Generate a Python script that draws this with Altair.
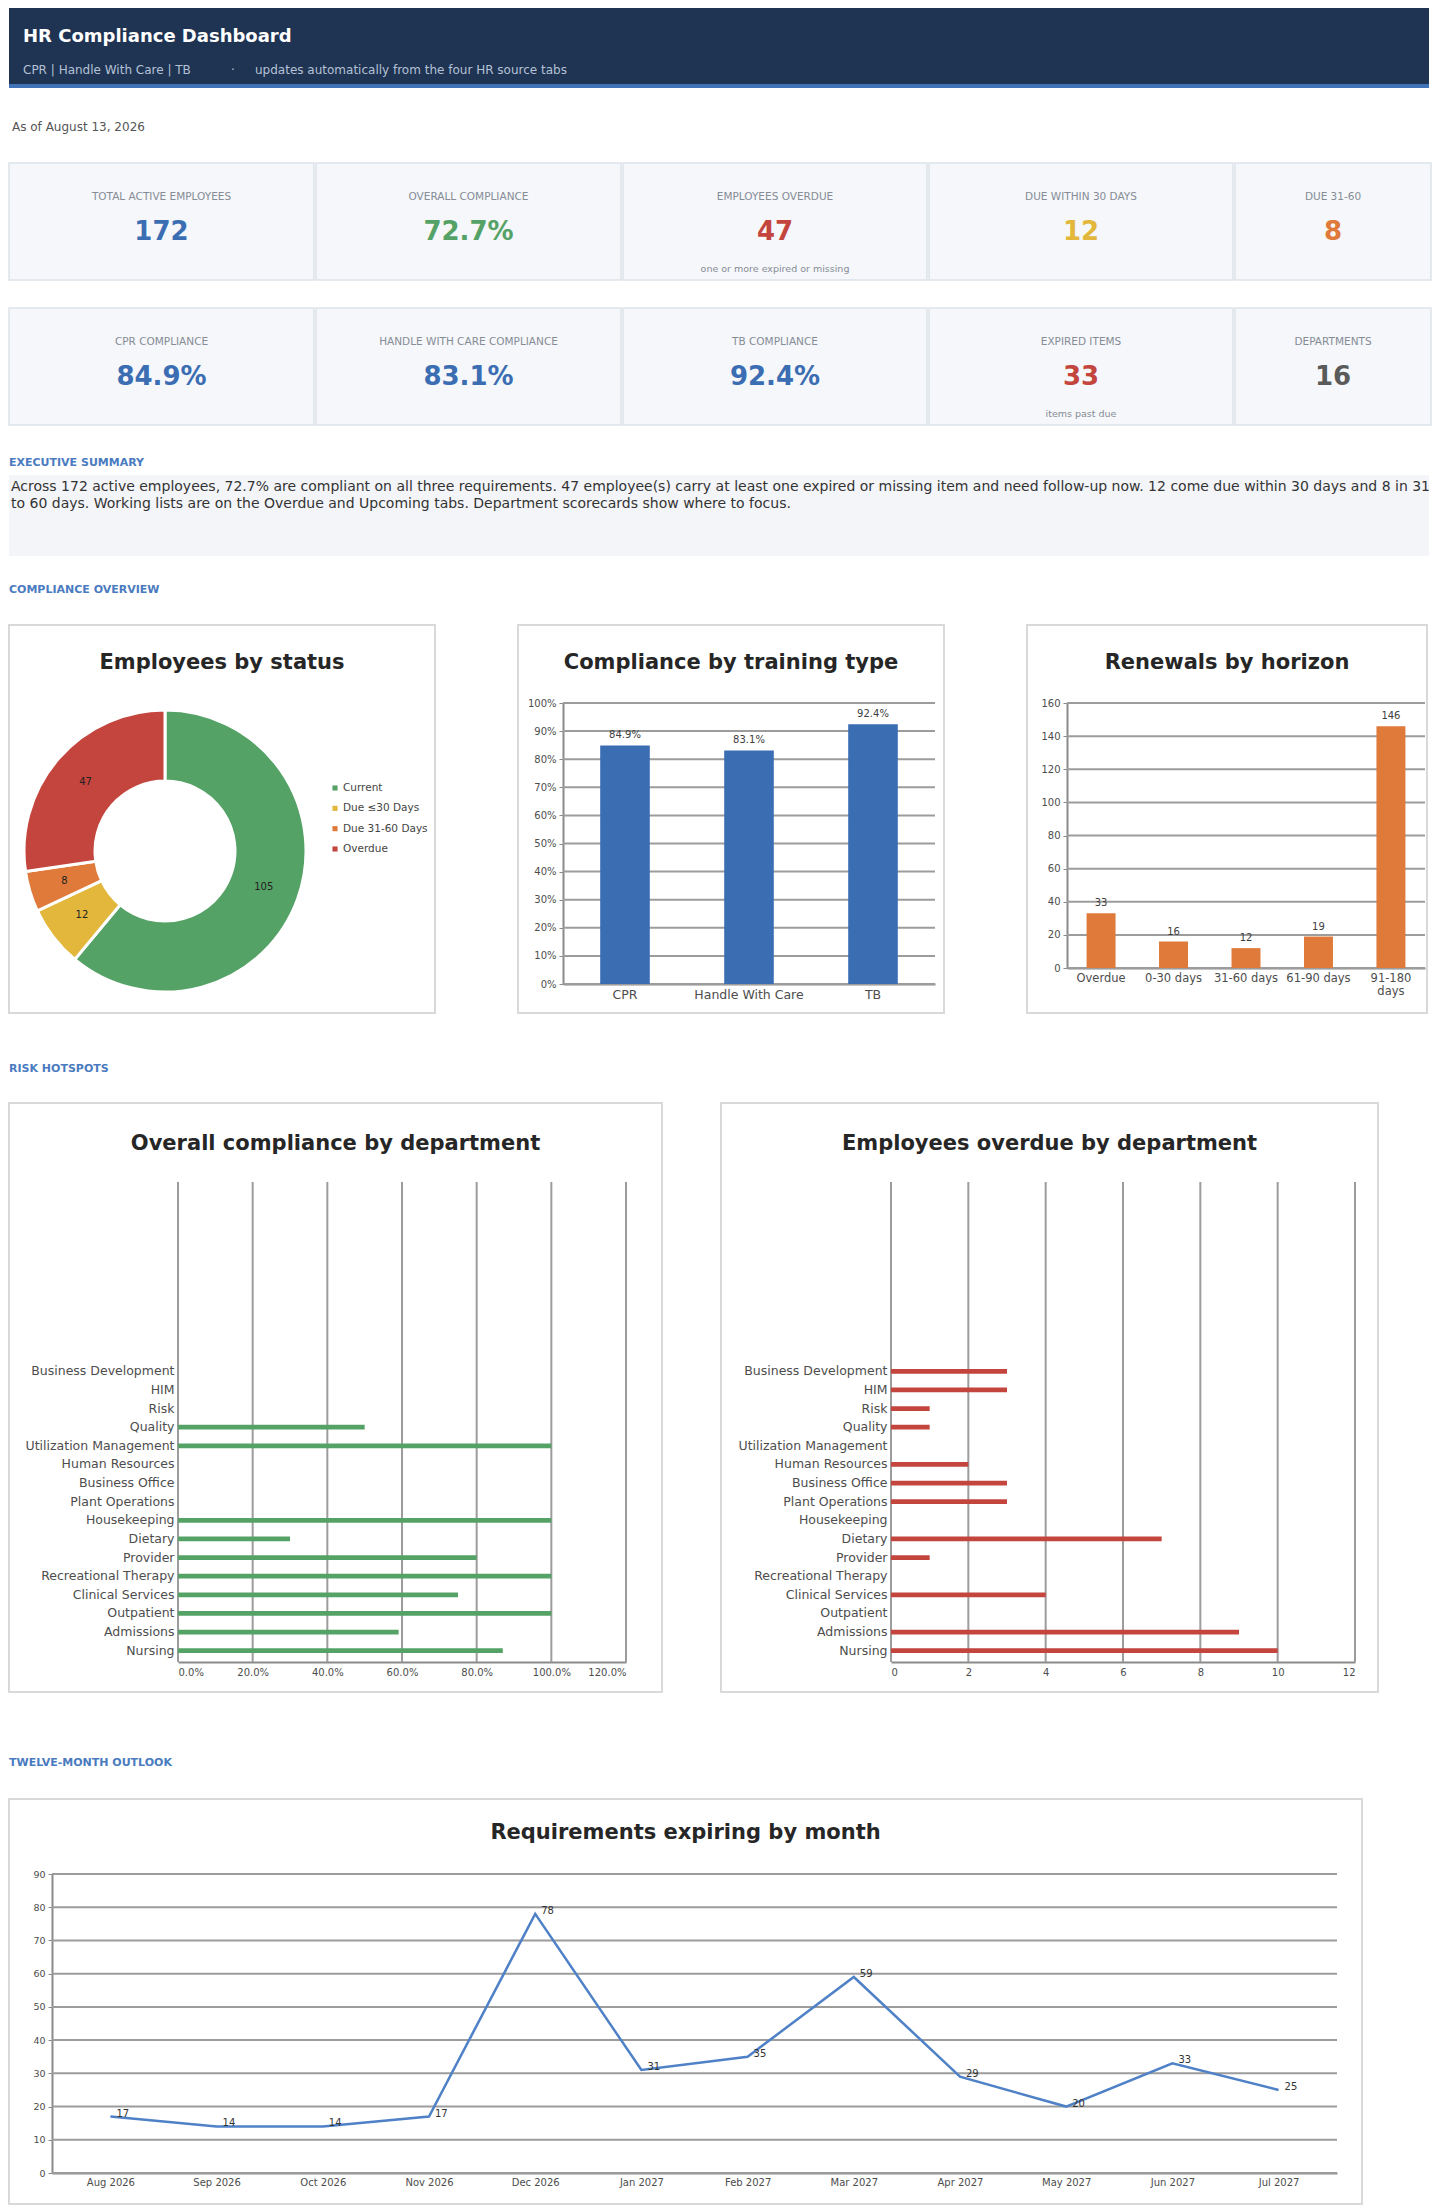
import altair as alt
import pandas as pd

FONT = "DejaVu Sans"

# ---------------- text content ----------------
header_title = "HR Compliance Dashboard"
header_programs = "CPR  |  Handle With Care  |  TB"
header_dot = "\u00b7"
header_note = "updates automatically from the four HR source tabs"
as_of_text = "As of August 13, 2026"

kpi_row1_labels = ["TOTAL ACTIVE EMPLOYEES", "OVERALL COMPLIANCE", "EMPLOYEES OVERDUE", "DUE WITHIN 30 DAYS", "DUE 31-60"]
kpi_row1_values = ["172", "72.7%", "47", "12", "8"]
kpi_row1_notes = ["", "", "one or more expired or missing", "", ""]
kpi_row2_labels = ["CPR COMPLIANCE", "HANDLE WITH CARE COMPLIANCE", "TB COMPLIANCE", "EXPIRED ITEMS", "DEPARTMENTS"]
kpi_row2_values = ["84.9%", "83.1%", "92.4%", "33", "16"]
kpi_row2_notes = ["", "", "", "items past due", ""]

section_labels = ["EXECUTIVE SUMMARY", "COMPLIANCE OVERVIEW", "RISK HOTSPOTS", "TWELVE-MONTH OUTLOOK"]
summary_lines = [
    "Across 172 active employees, 72.7% are compliant on all three requirements. 47 employee(s) carry at least one expired or missing item and need follow-up now. 12 come due within 30 days and 8 in 31",
    "to 60 days. Working lists are on the Overdue and Upcoming tabs. Department scorecards show where to focus.",
]

chart_titles = ["Employees by status", "Compliance by training type", "Renewals by horizon",
                "Overall compliance by department", "Employees overdue by department",
                "Requirements expiring by month"]

# ---------------- chart data ----------------
status_names = ["Current", "Due \u226430 Days", "Due 31-60 Days", "Overdue"]
status_counts = [105, 12, 8, 47]

training_types = ["CPR", "Handle With Care", "TB"]
training_rates = [0.849, 0.831, 0.924]
pct_ticks = [0.0, 0.1, 0.2, 0.3, 0.4, 0.5, 0.6, 0.7, 0.8, 0.9, 1.0]

horizon_names = ["Overdue", "0-30 days", "31-60 days", "61-90 days", "91-180 days"]
horizon_counts = [33, 16, 12, 19, 146]
horizon_ticks = [0, 20, 40, 60, 80, 100, 120, 140, 160]

departments = ["Business Development", "HIM", "Risk", "Quality", "Utilization Management",
               "Human Resources", "Business Office", "Plant Operations", "Housekeeping",
               "Dietary", "Provider", "Recreational Therapy", "Clinical Services",
               "Outpatient", "Admissions", "Nursing"]
dept_compliance = [0.0, 0.0, 0.0, 0.5, 1.0, 0.0, 0.0, 0.0, 1.0, 0.3, 0.8, 1.0, 0.75, 1.0, 0.591, 0.870]
dept_overdue = [3, 3, 1, 1, 0, 2, 3, 3, 0, 7, 1, 0, 4, 0, 9, 10]
compliance_ticks = [0.0, 0.2, 0.4, 0.6, 0.8, 1.0, 1.2]
overdue_ticks = [0, 2, 4, 6, 8, 10, 12]

months = ["Aug 2026", "Sep 2026", "Oct 2026", "Nov 2026", "Dec 2026", "Jan 2027",
          "Feb 2027", "Mar 2027", "Apr 2027", "May 2027", "Jun 2027", "Jul 2027"]
month_counts = [17, 14, 14, 17, 78, 31, 35, 59, 29, 20, 33, 25]
month_ticks = [0, 10, 20, 30, 40, 50, 60, 70, 80, 90]

# ---------------- styles ----------------
NAVY = "#1f3352"
ACCENT = "#3f72b6"
BLUE = "#3b6db3"
GREEN = "#55a266"
RED = "#c4453d"
GOLD = "#e2b73c"
ORANGE = "#df7a3a"
GRID = "#9c9c9c"
GRID_W = 2
AX = "#8a8a8a"
LBL = "#4d4d4d"
SECTION = "#4a7bc0"
status_colors = [GREEN, GOLD, ORANGE, RED]
kpi_row1_colors = [BLUE, GREEN, RED, GOLD, ORANGE]
kpi_row2_colors = [BLUE, BLUE, BLUE, RED, "#5a5a5a"]
card_widths = [305, 305, 304, 304, 196]
PAGE_W = 1420
PANEL_VIEW = alt.ViewBackground(fill="white", stroke="#d9d9d9", strokeWidth=2)
TITLE_SIZE = 21

one = pd.DataFrame({"k": [0]})


def txt(text, x, y, size=11, color="#333333", weight="normal", align="left"):
    return alt.Chart(pd.DataFrame({"t": [text]})).mark_text(
        align=align, baseline="middle", fontSize=size, color=color,
        fontWeight=weight, font=FONT
    ).encode(x=alt.value(x), y=alt.value(y), text="t:N")


def box(x0, y0, x1, y1, fill="white"):
    return alt.Chart(one).mark_rect(fill=fill).encode(
        x=alt.value(x0), x2=alt.value(x1), y=alt.value(y0), y2=alt.value(y1))


def ptitle(text, fw, y):
    return txt(text, fw / 2, y, size=TITLE_SIZE, color="#262626", weight="bold", align="center")


def axis_left(values, fmt, L, size=10):
    return alt.Axis(title=None, values=values, format=fmt, grid=False, offset=-L,
                    domainColor=AX, domainWidth=2, ticks=True, tickColor=AX, tickSize=4,
                    labelFontSize=size, labelColor=LBL, labelFont=FONT, labelPadding=3)


def axis_bottom_cat(B, size=11, expr=None):
    kw = {}
    if expr:
        kw["labelExpr"] = expr
    return alt.Axis(title=None, labelAngle=0, ticks=False, grid=False, offset=-B,
                    domainColor=AX, domainWidth=2, labelFontSize=size, labelColor=LBL,
                    labelFont=FONT, labelPadding=4, **kw)


def axis_bottom_q(values, fmt, B, size=10):
    return alt.Axis(title=None, values=values, format=fmt, grid=False, offset=-B, ticks=False,
                    domainColor=AX, domainWidth=2, labelFontSize=size, labelColor=LBL,
                    labelFont=FONT, labelPadding=5)


# ---------------- header / text blocks ----------------
header = alt.layer(
    box(0, 76, PAGE_W, 80, fill=ACCENT),
    txt(header_title, 14, 29, size=18, color="white", weight="bold"),
    txt(header_programs, 14, 62, size=12, color="#b4c2d6"),
    txt(header_dot, 222, 62, size=12, color="#b4c2d6"),
    txt(header_note, 246, 62, size=12, color="#b4c2d6"),
).properties(width=PAGE_W, height=80, view=alt.ViewBackground(fill=NAVY, strokeWidth=0))

asof = txt(as_of_text, 3, 39, size=12, color="#555555").properties(width=PAGE_W, height=74)


def card(label, value, note, color, w):
    layers = [
        txt(label, w / 2, 34, size=10.5, color="#858c96", align="center"),
        txt(value, w / 2, 69, size=26, color=color, weight="bold", align="center"),
    ]
    if note:
        layers.append(txt(note, w / 2, 106, size=9.5, color="#858c96", align="center"))
    return alt.layer(*layers).properties(
        width=w, height=117,
        view=alt.ViewBackground(fill="#f5f7fa", stroke="#dde3ea", strokeWidth=1.5))


kpi_row1 = alt.hconcat(*[card(l, v, n, c, w) for l, v, n, c, w in
                         zip(kpi_row1_labels, kpi_row1_values, kpi_row1_notes, kpi_row1_colors, card_widths)],
                       spacing=0)
kpi_row2 = alt.hconcat(*[card(l, v, n, c, w) for l, v, n, c, w in
                         zip(kpi_row2_labels, kpi_row2_values, kpi_row2_notes, kpi_row2_colors, card_widths)],
                       spacing=0)
kpis = alt.vconcat(kpi_row1, kpi_row2, spacing=26)

summary = alt.layer(
    txt(section_labels[0], 0, 37, size=11, color=SECTION, weight="bold"),
    box(0, 49, PAGE_W, 130, fill="#f3f5f9"),
    txt(summary_lines[0], 2, 61, size=14, color="#333333"),
    txt(summary_lines[1], 2, 78, size=14, color="#333333"),
    txt(section_labels[1], 0, 164, size=11, color=SECTION, weight="bold"),
).properties(width=PAGE_W, height=198)

# ---------------- donut ----------------
FW, FH = 426, 388
CX, CY = 156, 226
status_df = pd.DataFrame({"status": status_names, "count": status_counts,
                          "order": list(range(len(status_names)))})
status_color = alt.Color("status:N", scale=alt.Scale(domain=status_names, range=status_colors), legend=None)
donut_base = alt.Chart(status_df).encode(
    theta=alt.Theta("count:Q", stack=True),
    order=alt.Order("order:Q"),
)
arcs = donut_base.mark_arc(outerRadius=141, innerRadius=70, stroke="white", strokeWidth=3).encode(
    color=status_color, x=alt.value(CX), y=alt.value(CY))
arc_labels = donut_base.mark_text(radius=105, fontSize=10, color="#222222", font=FONT).encode(
    text="count:Q", x=alt.value(CX), y=alt.value(CY))
leg_base = alt.Chart(status_df).encode(
    y=alt.Y("status:N", sort=status_names,
            scale=alt.Scale(type="point", range=[163, 224], padding=0), axis=None))
leg_sq = leg_base.mark_square(size=26, opacity=1).encode(x=alt.value(326), color=status_color)
leg_tx = leg_base.mark_text(align="left", baseline="middle", fontSize=10.5, color="#444444", font=FONT).encode(
    x=alt.value(334), text="status:N")
donut = alt.layer(
    arcs, arc_labels, leg_sq, leg_tx, ptitle(chart_titles[0], FW, 38),
).properties(width=FW, height=FH, view=PANEL_VIEW)

# ---------------- training bars ----------------
FW, FH = 426, 388
L, T, W, H = 45, 78, 372, 281
B = FH - T - H
tr_df = pd.DataFrame({"type": training_types, "rate": training_rates})
ys = alt.Scale(domain=[0, 1], range=[T + H, T])
yax = axis_left(pct_ticks, ".0%", L)
tr_grid = alt.Chart(pd.DataFrame({"t": pct_ticks})).mark_rule(color=GRID, strokeWidth=GRID_W).encode(
    y=alt.Y("t:Q", scale=ys, axis=yax), x=alt.value(L), x2=alt.value(L + W))
tr_base = alt.Chart(tr_df).encode(
    x=alt.X("type:N", sort=training_types,
            scale=alt.Scale(range=[L, L + W], paddingInner=0.6, paddingOuter=0.3),
            axis=axis_bottom_cat(B, size=12.5)),
    y=alt.Y("rate:Q", scale=ys, axis=yax),
)
training = alt.layer(
    tr_grid,
    tr_base.mark_bar(color=BLUE),
    tr_base.mark_text(dy=-10, fontSize=10, color="#404040", font=FONT).encode(
        text=alt.Text("rate:Q", format=".1%")),
    ptitle(chart_titles[1], FW, 38),
).properties(width=FW, height=FH, view=PANEL_VIEW)

# ---------------- renewals bars ----------------
FW, FH = 400, 388
L, T, W, H = 40, 78, 358, 265
B = FH - T - H
rn_df = pd.DataFrame({"horizon": horizon_names, "count": horizon_counts})
ys = alt.Scale(domain=[0, 160], range=[T + H, T])
yax = axis_left(horizon_ticks, "d", L)
rn_grid = alt.Chart(pd.DataFrame({"t": horizon_ticks})).mark_rule(color=GRID, strokeWidth=GRID_W).encode(
    y=alt.Y("t:Q", scale=ys, axis=yax), x=alt.value(L), x2=alt.value(L + W))
rn_base = alt.Chart(rn_df).encode(
    x=alt.X("horizon:N", sort=horizon_names,
            scale=alt.Scale(range=[L, L + W], paddingInner=0.6, paddingOuter=0.27),
            axis=axis_bottom_cat(B, size=11.5,
                                 expr="datum.value == '91-180 days' ? ['91-180', 'days'] : datum.label")),
    y=alt.Y("count:Q", scale=ys, axis=yax),
)
renewals = alt.layer(
    rn_grid,
    rn_base.mark_bar(color=ORANGE),
    rn_base.mark_text(dy=-10, fontSize=10, color="#404040", font=FONT).encode(text="count:Q"),
    ptitle(chart_titles[2], FW, 38),
).properties(width=FW, height=FH, view=PANEL_VIEW)

# ---------------- department charts ----------------
dept_df = pd.DataFrame({"dept": departments, "comp": dept_compliance, "overdue": dept_overdue})


def dept_panel(field, color, ticks, fmt, FW, L, W, title):
    FH, T, H = 589, 79, 480
    B = FH - T - H
    xs = alt.Scale(domain=[ticks[0], ticks[-1]], range=[L, L + W])
    xax = axis_bottom_q(ticks, fmt, B)
    grid = alt.Chart(pd.DataFrame({"t": ticks})).mark_rule(color=GRID, strokeWidth=GRID_W).encode(
        x=alt.X("t:Q", scale=xs, axis=xax), y=alt.value(T), y2=alt.value(T + H))
    bars = alt.Chart(dept_df).mark_bar(color=color).encode(
        x=alt.X(f"{field}:Q", scale=xs, axis=xax),
        y=alt.Y("dept:N", scale=alt.Scale(domain=departments, range=[T + 180, T + 478],
                                          paddingInner=0.74, paddingOuter=0.37),
                axis=alt.Axis(title=None, domain=False, ticks=False, offset=-L, labelFontSize=12.5,
                              labelColor=LBL, labelFont=FONT, labelPadding=4, labelLimit=220)),
    )
    return alt.layer(grid, bars, ptitle(title, FW, 41)).properties(width=FW, height=FH, view=PANEL_VIEW)


dept_comp = dept_panel("comp", GREEN, compliance_ticks, ".1%", 653, 169, 448, chart_titles[3])
dept_over = dept_panel("overdue", RED, overdue_ticks, "d", 657, 170, 464, chart_titles[4])

# ---------------- monthly line ----------------
FW, FH = 1353, 405
L, T, W, H = 43, 75, 1285, 299
B = FH - T - H
ys = alt.Scale(domain=[0, 90], range=[T + H, T])
yax = axis_left(month_ticks, "d", L, size=9.5)
ln_df = pd.DataFrame({"month": months, "n": month_counts})
ln_grid = alt.Chart(pd.DataFrame({"t": month_ticks})).mark_rule(color=GRID, strokeWidth=GRID_W).encode(
    y=alt.Y("t:Q", scale=ys, axis=yax), x=alt.value(L), x2=alt.value(L + W))
ln_base = alt.Chart(ln_df).encode(
    x=alt.X("month:N", sort=months, scale=alt.Scale(type="point", padding=0.55, range=[L, L + W]),
            axis=axis_bottom_cat(B, size=10)),
    y=alt.Y("n:Q", scale=ys, axis=yax),
)
monthly = alt.layer(
    ln_grid,
    ln_base.mark_line(color="#4f81c7", strokeWidth=2.5),
    ln_base.mark_text(align="left", dx=6, dy=-3, fontSize=10, color="#333333", font=FONT).encode(text="n:Q"),
    ptitle(chart_titles[5], FW, 34),
).properties(width=FW, height=FH, view=PANEL_VIEW)

# ---------------- assemble ----------------
row_overview = alt.hconcat(donut, training, renewals, spacing=81)
label_risk = txt(section_labels[2], 0, 55, size=11, color=SECTION, weight="bold").properties(width=PAGE_W, height=88)
row_dept = alt.hconcat(dept_comp, dept_over, spacing=57)
label_outlook = txt(section_labels[3], 0, 70, size=11, color=SECTION, weight="bold").properties(width=PAGE_W, height=105)

chart = alt.vconcat(
    header, asof, kpis, summary, row_overview, label_risk, row_dept, label_outlook, monthly,
    spacing=0,
).properties(padding=0).configure(font=FONT).configure_view(stroke=None)

chart.save("out.html", embed_options={"renderer": "svg", "actions": False})
